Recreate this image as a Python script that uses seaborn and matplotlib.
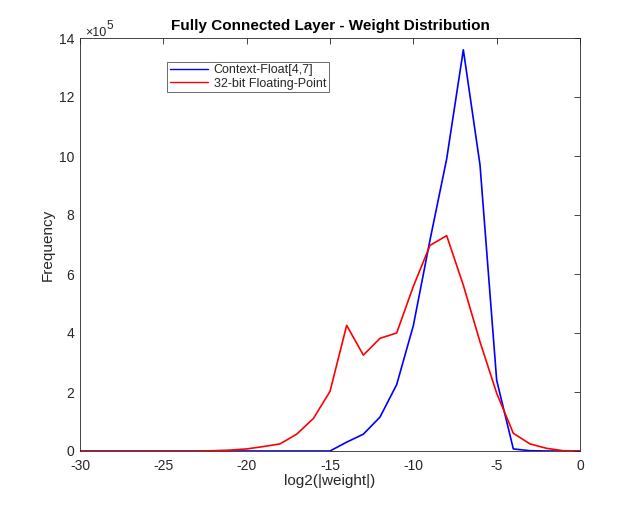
import matplotlib
matplotlib.use("Agg")
import matplotlib.pyplot as plt
import seaborn as sns
import pandas as pd
from matplotlib.lines import Line2D

# Data (frequency in units of 1e5)
log2_weight = [-30, -29, -28, -27, -26, -25, -24, -23, -22, -21, -20, -19, -18, -17, -16,
               -15, -14, -13, -12, -11, -10, -9, -8, -7, -6, -5, -4, -3, -2, -1, 0]
context_float = [0, 0, 0, 0, 0, 0, 0, 0, 0, 0, 0, 0, 0, 0, 0,
                 0, 0.30, 0.57, 1.15, 2.25, 4.25, 7.15, 9.9, 13.6, 9.7, 2.4, 0.07, 0.01, 0, 0, 0]
fp32 = [0, 0, 0, 0, 0, 0, 0, 0, 0.01, 0.03, 0.07, 0.15, 0.24, 0.57, 1.1,
        2.02, 4.26, 3.25, 3.82, 4.0, 5.58, 6.97, 7.3, 5.62, 3.7, 1.96, 0.6, 0.24, 0.09, 0.01, 0]
series_names = ["Context-Float[4,7]", "32-bit Floating-Point"]
x_ticks = [-30, -25, -20, -15, -10, -5, 0]
y_ticks = [0, 2, 4, 6, 8, 10, 12, 14]

df = pd.concat([
    pd.DataFrame({"x": log2_weight, "y": context_float, "series": series_names[0]}),
    pd.DataFrame({"x": log2_weight, "y": fp32, "series": series_names[1]}),
])

sns.set_style("white")
plt.rcParams["font.family"] = ["Liberation Sans", "DejaVu Sans"]

dark = "#262626"
colors = ["#0000ff", "#ff0000"]
fig = plt.figure(figsize=(6.41, 5.08), dpi=100)
ax = fig.add_axes([80 / 641, 1 - 451 / 508, 500 / 641, 413 / 508])

sns.lineplot(data=df, x="x", y="y", hue="series", hue_order=series_names,
             palette=colors, linewidth=1.2, ax=ax, legend=False)

ax.set_xlim(-30, 0)
ax.set_ylim(0, 14)
ax.set_xticks(x_ticks)
ax.set_yticks(y_ticks)
ax.set_xticklabels([str(t) for t in x_ticks])
ax.set_yticklabels([str(t) for t in y_ticks])
ax.tick_params(direction="in", length=4, width=0.6, colors=dark, labelsize=10,
               top=True, right=True, labelcolor=dark, pad=4)
ax.tick_params(axis="x", pad=5.5)
for s in ax.spines.values():
    s.set_visible(True)
    s.set_color(dark)
    s.set_linewidth(0.6)

ax.set_xlabel("log2(|weight|)", fontsize=11, color=dark, labelpad=1)
ax.set_ylabel("Frequency", fontsize=11, color=dark, labelpad=3)
ax.set_title("Fully Connected Layer - Weight Distribution", fontsize=11,
             fontweight="bold", color="black", pad=6)
ax.text(0.010, 1.0048, "×10", transform=ax.transAxes, fontsize=9,
        color=dark, ha="left", va="baseline")
ax.text(0.052, 1.0218, "5", transform=ax.transAxes, fontsize=8.5,
        color=dark, ha="left", va="baseline")

handles = [Line2D([], [], color=c, lw=1.0) for c in colors]
leg = ax.legend(handles, series_names, loc="upper left", bbox_to_anchor=(0.174, 0.942),
                borderaxespad=0, fontsize=9, frameon=True, fancybox=False,
                handlelength=3.1, handletextpad=0.45, labelspacing=0.1, borderpad=0.2)
leg.get_frame().set_edgecolor(dark)
leg.get_frame().set_linewidth(0.6)
for t in leg.get_texts():
    t.set_color(dark)

fig.savefig("out.png", dpi=100, facecolor="white")
